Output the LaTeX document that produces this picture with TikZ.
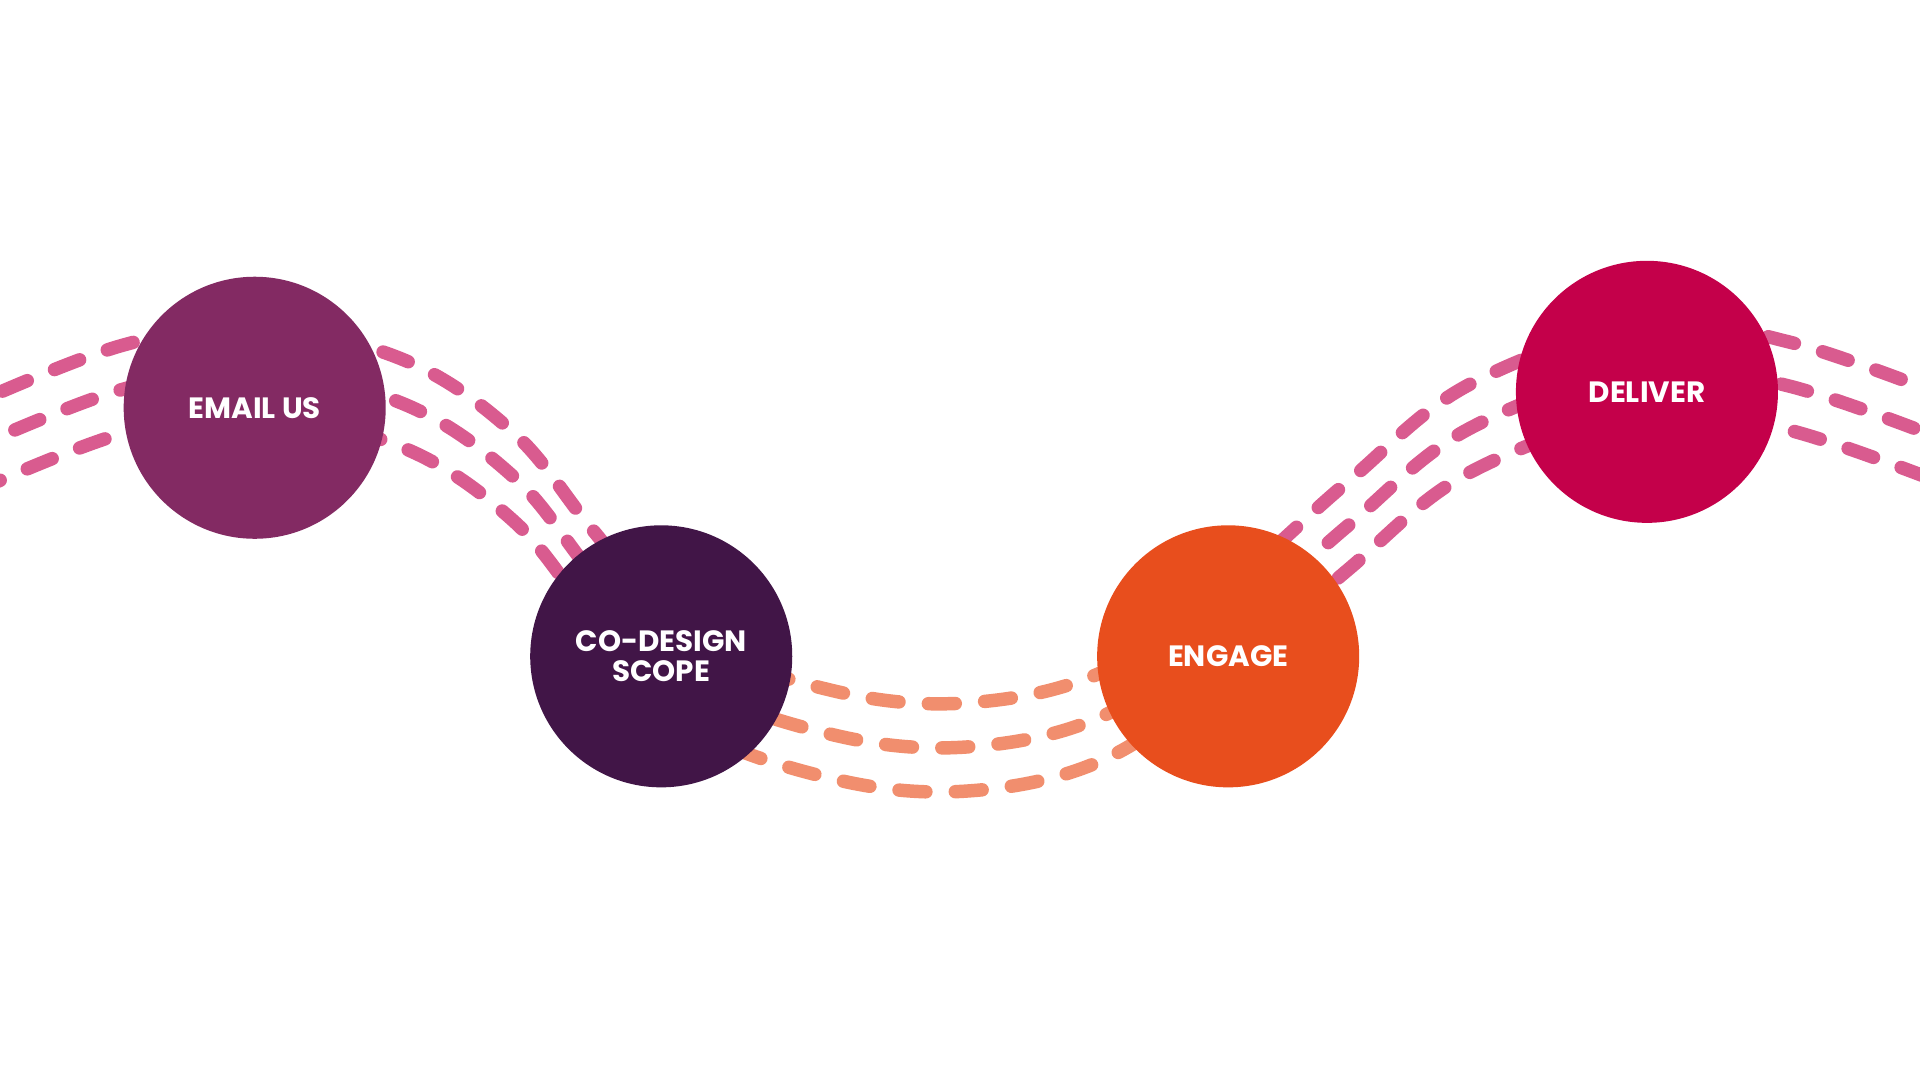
\documentclass[tikz,border=0pt]{standalone}
\usepackage{fontspec}
\setmainfont{Poppins}
\begin{document}
\begin{tikzpicture}[x=1pt,y=-1pt,
  dashline/.style={line width=11pt,line cap=round,dash pattern=on 22pt off 24pt},
  stepnode/.style={circle,minimum size=214pt,inner sep=0pt,text=white,font=\bfseries\fontsize{24}{25}\selectfont,align=center}]
\definecolor{pinkline}{HTML}{D95B8F}
\definecolor{salmon}{HTML}{F18E6E}
\definecolor{c1}{HTML}{832A63}
\definecolor{c2}{HTML}{411547}
\definecolor{c3}{HTML}{E84E1D}
\definecolor{c4}{HTML}{C4004A}
\fill[white] (0,0) rectangle (1568,882);
\useasboundingbox (0,0) rectangle (1568,882);
\def\wave{plot[smooth,tension=0.6] coordinates {(-20,365) (100,318) (208,302) (330,330) (420,390) (485,470) (560,555) (680,600) (790,610) (900,585) (1003,515) (1100,430) (1200,350) (1345,300) (1460,315) (1590,360)}}
\foreach \s/\o in {-36/0,0/11,36/22}{
  \begin{scope}
    \clip (-50,-50) rectangle (600,950) (930,-50) rectangle (1650,950);
    \draw[dashline,pinkline,dash phase=\o pt,yshift=\s] \wave;
  \end{scope}
  \begin{scope}
    \clip (600,-50) rectangle (930,950);
    \draw[dashline,salmon,dash phase=\o pt,yshift=\s] \wave;
  \end{scope}
}
\node[stepnode,fill=c1] (email) at (208,333) {EMAIL US};
\node[stepnode,fill=c2] (codesign) at (540,536) {CO-DESIGN\\SCOPE};
\node[stepnode,fill=c3] (engage) at (1003,536) {ENGAGE};
\node[stepnode,fill=c4] (deliver) at (1345,320) {DELIVER};
\end{tikzpicture}
\end{document}
